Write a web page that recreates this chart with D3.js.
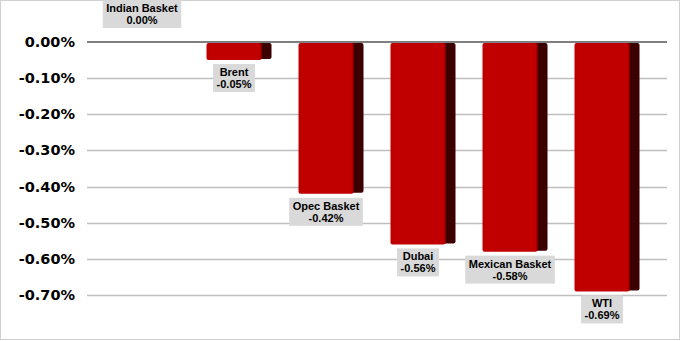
<!DOCTYPE html>
<html><head><meta charset="utf-8">
<script src="https://cdn.jsdelivr.net/npm/d3@7"></script>
<style>body{margin:0;background:#fff}svg{display:block}</style>
</head><body>
<script>
const categories = ["Indian Basket","Brent","Opec Basket","Dubai","Mexican Basket","WTI"];
const values = [0.00,-0.05,-0.42,-0.56,-0.58,-0.69];
const yTicks = [0,-0.1,-0.2,-0.3,-0.4,-0.5,-0.6,-0.7];

const W=681,H=341;
const fmt=d=>d3.format(".2f")(d).replace("\u2212","-")+"%";
const svg=d3.select("body").append("svg").attr("width",W).attr("height",H);
svg.append("rect").attr("x",0.5).attr("y",0.5).attr("width",679).attr("height",339)
  .attr("fill","#fff").attr("stroke","#d0d0d0");

const gridL=87, gridR=667;
const y=d3.scaleLinear().domain([-0.7,0]).range([295,42]);
const x=d3.scaleBand().domain(categories).range([101,653]).padding(0);
const frontW=55, sideW=10;

// gridlines
svg.append("g").selectAll("line").data(yTicks.filter(t=>t!==0)).join("line")
  .attr("x1",gridL).attr("x2",gridR).attr("y1",d=>Math.round(y(d))+0.5).attr("y2",d=>Math.round(y(d))+0.5)
  .attr("stroke","#bfbfbf").attr("stroke-width",1.5);

// y labels
svg.append("g").selectAll("text").data(yTicks).join("text")
  .attr("x",75).attr("y",d=>y(d)+5).attr("text-anchor","end")
  .attr("font-family","DejaVu Sans").attr("font-weight","bold").attr("font-size",14.5)
  .attr("fill","#000").text(d=>fmt(d===0?0:d));

// bars
const bars=svg.append("g");
categories.forEach((c,i)=>{
  const v=values[i];
  const bx=x(c)+(x.bandwidth()-frontW-sideW)/2;
  const top=y(0)+1, bot=y(v);
  const h=bot-top;
  if(h>0.5){
    bars.append("rect").attr("x",bx+frontW-3).attr("y",top).attr("width",sideW+3).attr("height",Math.max(h-1,0))
      .attr("rx",2).attr("fill","#3c0000");
    bars.append("rect").attr("x",bx).attr("y",top).attr("width",frontW).attr("height",h)
      .attr("rx",2).attr("fill","#c00000");
    bars.append("line").attr("x1",bx+frontW-0.5).attr("x2",bx+frontW-0.5).attr("y1",top).attr("y2",bot-1)
      .attr("stroke","#8a0000").attr("stroke-width",1);
  }
});

// zero line
svg.append("line").attr("x1",gridL).attr("x2",gridR).attr("y1",y(0)).attr("y2",y(0))
  .attr("stroke","#7f7f7f").attr("stroke-width",2);

// labels
const lg=svg.append("g").attr("font-family","Liberation Sans").attr("font-weight","bold").attr("font-size",11).attr("fill","#000");
categories.forEach((c,i)=>{
  const v=values[i];
  const bx=x(c)+(x.bandwidth()-frontW-sideW)/2;
  const cx=bx+frontW/2;
  const g=lg.append("g");
  const t1=g.append("text").attr("text-anchor","middle").attr("x",cx).text(c);
  const t2=g.append("text").attr("text-anchor","middle").attr("x",cx).text(fmt(v));
  const w=Math.max(t1.node().getComputedTextLength(),t2.node().getComputedTextLength())+7;
  const bh=28;
  const top = v===0 ? y(0)-14-bh : y(v)+4;
  g.insert("rect","text").attr("x",cx-w/2).attr("y",top).attr("width",w).attr("height",bh).attr("fill","#d9d9d9");
  t1.attr("y",top+12);
  t2.attr("y",top+24);
});
</script>
</body></html>
